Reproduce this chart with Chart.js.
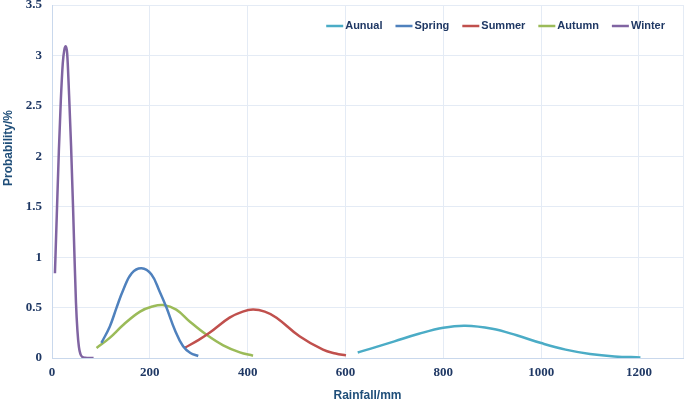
<!DOCTYPE html>
<html>
<head>
<meta charset="utf-8">
<script src="https://cdn.jsdelivr.net/npm/chart.js@4"></script>
<style>
    body { margin: 0; background: #fff; }
</style>
</head>
<body>
<canvas id="chart-rainfall" width="685" height="404"></canvas>
<script>
// Rainfall probability curves
const seriesNames = ['Aunual', 'Spring', 'Summer', 'Autumn', 'Winter'];
const seriesColors = ['#4BACC6', '#4F81BD', '#C0504D', '#9BBB59', '#8064A2'];

const aunualRain = [625, 650, 700, 750, 800, 845, 900, 950, 1000, 1050, 1100, 1150, 1203];
const aunualProb = [0.055, 0.09, 0.165, 0.24, 0.30, 0.32, 0.29, 0.225, 0.148, 0.083, 0.04, 0.016, 0.006];

const springRain = [101, 118, 132, 146, 163, 183, 203, 220, 234, 251, 268, 283, 299];
const springProb = [0.15, 0.31, 0.50, 0.68, 0.84, 0.89, 0.83, 0.66, 0.50, 0.28, 0.116, 0.05, 0.02];

const summerRain = [271, 300, 322, 363, 390, 411, 435, 459, 506, 554, 580, 601];
const summerProb = [0.10, 0.18, 0.25, 0.40, 0.46, 0.48, 0.46, 0.40, 0.215, 0.082, 0.045, 0.026];

const autumnRain = [91, 118, 146, 180, 205, 227, 254, 282, 316, 350, 384, 411];
const autumnProb = [0.10, 0.20, 0.33, 0.46, 0.51, 0.525, 0.48, 0.36, 0.23, 0.126, 0.056, 0.023];

const winterRain = [6, 10, 14, 18, 22, 25, 28, 31, 35, 39, 43, 46, 49, 52, 55, 58, 62, 68, 76, 85];
const winterProb = [0.84, 1.45, 2.05, 2.55, 2.92, 3.05, 3.09, 3.02, 2.6, 2.1, 1.5, 1.0, 0.55, 0.27, 0.11, 0.04, 0.01, 0.002, 0, 0];

const rainfallTicks = [0, 200, 400, 600, 800, 1000, 1200];
const probabilityTicks = [0, 0.5, 1, 1.5, 2, 2.5, 3, 3.5];
const rainfallMax = 1290;

const navy = '#1F3864';
const titleBlue = '#1F4E79';
const gridColor = '#E4EBF5';
const axisColor = '#C9D8EC';

function toPoints(xs, ys) {
    return xs.map((x, i) => ({ x: x, y: ys[i] }));
}

const allRain = [aunualRain, springRain, summerRain, autumnRain, winterRain];
const allProb = [aunualProb, springProb, summerProb, autumnProb, winterProb];

const datasets = seriesNames.map((name, i) => ({
    label: name,
    data: toPoints(allRain[i], allProb[i]),
    borderColor: seriesColors[i],
    backgroundColor: seriesColors[i],
    borderWidth: 2.5,
    pointRadius: 0,
    tension: 0.4,
    // winter has a flat tail, monotone keeps it from dipping under zero
    cubicInterpolationMode: name === 'Winter' ? 'monotone' : 'default',
    fill: false
}));

// legend drawn inside the plot, top right, like the original
const insideLegend = {
    id: 'insideLegend',
    afterDraw(chart) {
        const ctx = chart.ctx;
        const a = chart.chartArea;
        const lineLen = 17, gapText = 2, gapItem = 13;
        ctx.save();
        ctx.font = 'bold 11px "Liberation Sans"';
        ctx.textBaseline = 'middle';
        const items = chart.data.datasets.map(d => ({
            label: d.label,
            color: d.borderColor,
            w: ctx.measureText(d.label).width
        }));
        let total = 0;
        items.forEach((it, i) => {
            total += lineLen + gapText + it.w + (i < items.length - 1 ? gapItem : 0);
        });
        let x = a.right - 18 - total;
        const y = a.top + 21;
        items.forEach(it => {
            ctx.strokeStyle = it.color;
            ctx.lineWidth = 2.5;
            ctx.beginPath();
            ctx.moveTo(x, y);
            ctx.lineTo(x + lineLen, y);
            ctx.stroke();
            ctx.fillStyle = navy;
            ctx.fillText(it.label, x + lineLen + gapText, y);
            x += lineLen + gapText + it.w + gapItem;
        });
        ctx.restore();
    }
};

// y title is not centred on the axis in the original
const yTitle = {
    id: 'yTitle',
    afterDraw(chart) {
        const ctx = chart.ctx;
        ctx.save();
        ctx.translate(9, 148);
        ctx.rotate(-Math.PI / 2);
        ctx.font = 'bold 12px "Liberation Sans"';
        ctx.fillStyle = titleBlue;
        ctx.textAlign = 'center';
        ctx.textBaseline = 'middle';
        ctx.fillText('Probability/%', 0, 0);
        ctx.restore();
    }
};

const tickFont = { family: '"Liberation Serif"', size: 13, weight: 'bold' };

new Chart(document.getElementById('chart-rainfall'), {
    type: 'line',
    data: { datasets: datasets },
    options: {
        responsive: false,
        devicePixelRatio: 1,
        animation: false,
        layout: { padding: { top: 5, right: 2, bottom: 0, left: 0 } },
        plugins: {
            legend: { display: false },
            tooltip: { enabled: false }
        },
        scales: {
            x: {
                type: 'linear',
                min: 0,
                max: rainfallMax,
                afterBuildTicks: s => {
                    s.ticks = rainfallTicks.concat([rainfallMax]).map(v => ({ value: v }));
                },
                afterFit: s => {
                    s.height = 46;
                    s.paddingLeft = 0;
                    s.paddingRight = 0;
                },
                grid: { color: gridColor, drawTicks: false },
                border: { color: axisColor },
                ticks: {
                    padding: 7,
                    color: navy,
                    font: tickFont,
                    maxRotation: 0,
                    autoSkip: false,
                    callback: v => (v === rainfallMax ? '' : String(v))
                },
                title: {
                    display: true,
                    text: 'Rainfall/mm',
                    color: titleBlue,
                    font: { family: '"Liberation Sans"', size: 12, weight: 'bold' },
                    padding: { top: 0, bottom: 1 }
                }
            },
            y: {
                min: 0,
                max: 3.5,
                afterBuildTicks: s => {
                    s.ticks = probabilityTicks.map(v => ({ value: v }));
                },
                afterFit: s => {
                    s.width = 52;
                    s.paddingTop = 0;
                    s.paddingBottom = 0;
                },
                grid: { color: gridColor, drawTicks: false },
                border: { color: axisColor },
                ticks: {
                    padding: 10,
                    color: navy,
                    font: tickFont,
                    callback: v => String(v)
                }
            }
        }
    },
    plugins: [insideLegend, yTitle]
});
</script>
</body>
</html>
